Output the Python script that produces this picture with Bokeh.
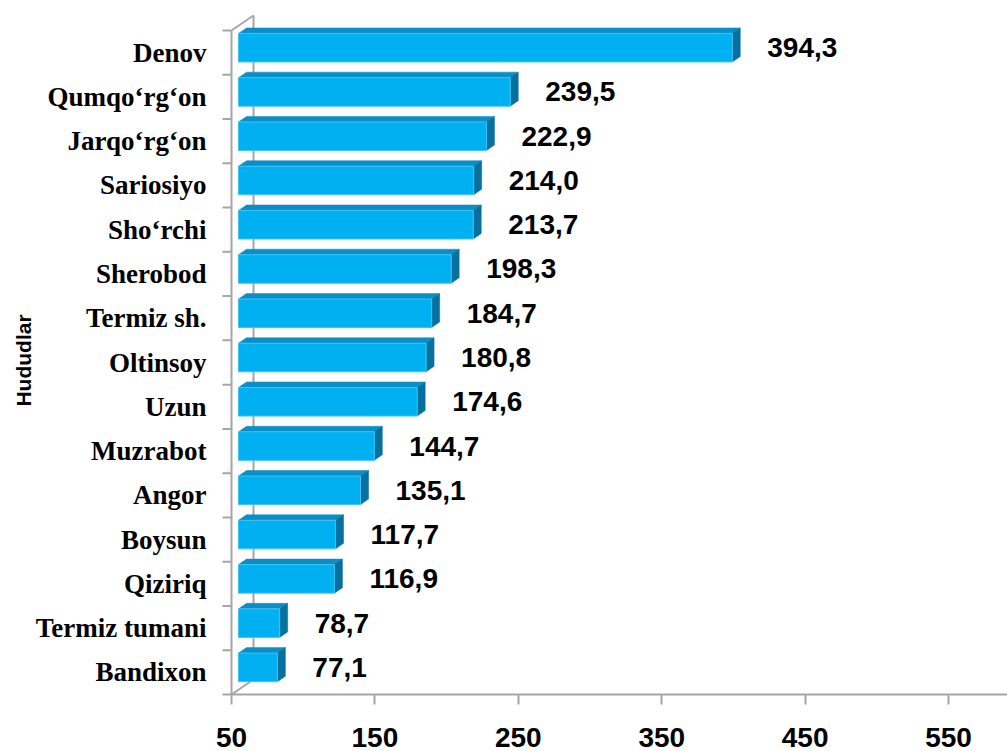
import math
from bokeh.plotting import figure
from bokeh.models import Range1d, FixedTicker
from bokeh.core.properties import value
from bokeh.embed import file_html
from bokeh.resources import INLINE

# ---- data (top to bottom as in the chart) ----
regions = ["Denov", "Qumqo‘rg‘on", "Jarqo‘rg‘on", "Sariosiyo", "Sho‘rchi",
           "Sherobod", "Termiz sh.", "Oltinsoy", "Uzun", "Muzrabot", "Angor",
           "Boysun", "Qiziriq", "Termiz tumani", "Bandixon"]
values = [394.3, 239.5, 222.9, 214.0, 213.7, 198.3, 184.7, 180.8, 174.6,
          144.7, 135.1, 117.7, 116.9, 78.7, 77.1]
x_ticks = [50, 150, 250, 350, 450, 550]
axis_title = "Hududlar"

# ---- geometry ----
W, H = 1007, 751
AXIS_X = 231                     # page x of the category axis
ML, MT = 213, 4
AXIS_Y = 694                     # page y of the category axis floor
n = len(regions)
ky = 664 / n                     # px per category band
x_base, x_end = 50, 591.1
kx = (W - AXIS_X) / (x_end - x_base)   # px per x unit
x_start = x_base - (AXIS_X - ML) / kx
y_start = -(H - AXIS_Y) / ky
y_end = (AXIS_Y - MT) / ky

off = 7 / kx          # bar plane offset from front axis
ddx = 8 / kx          # 3D depth, x
ddy = 5.5 / ky        # 3D depth, y
wdx = 22 / kx         # wall depth x
wdy = 15 / ky         # wall depth y
fb, ft = 0.29, 0.935  # front face bottom/top within band
ytick = 9 / kx

GRAY = "#A6A6A6"
FRONT = "#00B0F0"
TOP = "#0A8EC6"
SIDE = "#08709E"

p = figure(width=W, height=H, output_backend="svg", toolbar_location=None,
           x_range=Range1d(x_start, x_end), y_range=Range1d(y_start, y_end),
           min_border_left=ML, min_border_right=0, min_border_top=MT,
           min_border_bottom=0)
p.outline_line_color = None
p.grid.visible = False
p.background_fill_color = "white"
p.border_fill_color = "white"

# back wall edges
p.segment(x0=[x_base, x_base, x_base + wdx], y0=[0, n, wdy],
          x1=[x_base + wdx, x_base + wdx, x_base + wdx], y1=[wdy, n + wdy, n + wdy],
          line_color=GRAY, line_width=2)

# category axis line and its band ticks
p.segment(x0=[x_base], y0=[0], x1=[x_base], y1=[n], line_color=GRAY, line_width=2)
p.segment(x0=[x_base - ytick] * (n + 1), y0=list(range(n + 1)),
          x1=[x_base] * (n + 1), y1=list(range(n + 1)),
          line_color=GRAY, line_width=2)

bands = [n - 1 - i for i in range(n)]
x0 = x_base + off
front_l, front_r, front_b, front_t = [], [], [], []
top_xs, top_ys, side_xs, side_ys = [], [], [], []
for b, v in zip(bands, values):
    xe = v + off
    yb, yt = b + fb, b + ft
    front_l.append(x0); front_r.append(xe); front_b.append(yb); front_t.append(yt)
    top_xs.append([x0, x0 + ddx, xe + ddx, xe])
    top_ys.append([yt, yt + ddy, yt + ddy, yt])
    side_xs.append([xe, xe + ddx, xe + ddx, xe])
    side_ys.append([yb, yb + ddy, yt + ddy, yt])

p.patches(xs=top_xs, ys=top_ys, fill_color=TOP, line_color=TOP, line_width=0.5)
p.patches(xs=side_xs, ys=side_ys, fill_color=SIDE, line_color=SIDE, line_width=0.5)
p.quad(left=front_l, right=front_r, bottom=front_b, top=front_t,
       fill_color=FRONT, line_color="#3FC3F3", line_width=1)

labels = [f"{v:.1f}".replace(".", ",") for v in values]
p.text(x=[v + off for v in values], y=[b + (fb + ft) / 2 for b in bands],
       text=labels, x_offset=35, text_align="left", text_baseline="middle",
       text_font=value("Liberation Sans"), text_font_style="bold",
       text_font_size="28px", text_color="black")

# value axis, pinned to the floor edge (y = 0)
xa = p.xaxis[0]
xa.fixed_location = 0
xa.bounds = (x_base, x_end)
xa.ticker = FixedTicker(ticks=x_ticks)
xa.axis_line_color = GRAY
xa.axis_line_width = 2
xa.major_tick_line_color = GRAY
xa.major_tick_line_width = 2
xa.major_tick_out = 10
xa.major_tick_in = 0
xa.minor_tick_line_color = None
xa.major_label_standoff = 23
xa.major_label_text_font = "Liberation Sans"
xa.major_label_text_font_style = "bold"
xa.major_label_text_font_size = "28px"
xa.major_label_text_color = "black"

# category labels (axis at the frame's left edge; its line/ticks drawn above)
ya = p.yaxis[0]
centers = [b + 0.5 for b in range(n)]
ya.ticker = FixedTicker(ticks=centers, minor_ticks=[])
ya.major_label_overrides = {c: name for c, name in zip([b + 0.5 for b in bands], regions)}
ya.axis_line_color = None
ya.major_tick_line_color = None
ya.major_tick_out = 0
ya.major_tick_in = 0
ya.minor_tick_line_color = None
ya.minor_tick_out = 0
ya.major_label_standoff = 7
ya.major_label_text_font = "Liberation Serif"
ya.major_label_text_font_style = "bold"
ya.major_label_text_font_size = "27px"
ya.major_label_text_color = "black"
ya.axis_label = "\u00a0" * 6 + axis_title
ya.axis_label_standoff = -2
ya.axis_label_text_font = "Liberation Sans"
ya.axis_label_text_font_style = "bold"
ya.axis_label_text_font_size = "21px"
ya.axis_label_text_color = "black"

open("out.html", "w").write(file_html(p, INLINE))
